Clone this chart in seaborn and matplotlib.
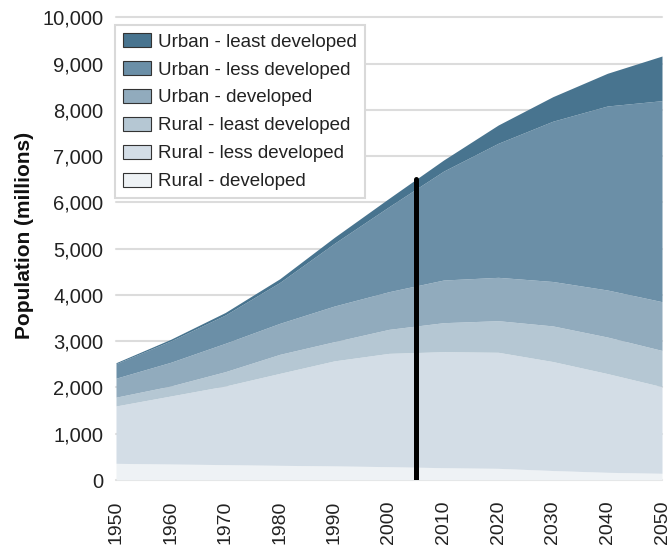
import matplotlib
matplotlib.use("Agg")
import matplotlib.pyplot as plt
from matplotlib.patches import Patch
import seaborn as sns
import pandas as pd

years = [1950, 1960, 1970, 1980, 1990, 2000, 2010, 2020, 2030, 2040, 2050]
rural_developed = [360, 346, 332, 317, 305, 288, 266, 252, 205, 166, 145]
rural_less = [1240, 1469, 1699, 1988, 2270, 2449, 2507, 2508, 2355, 2134, 1872]
rural_least = [190, 216, 310, 411, 415, 519, 627, 683, 770, 790, 783]
urban_developed = [410, 512, 613, 670, 770, 814, 922, 937, 960, 1016, 1054]
urban_less = [313, 461, 611, 884, 1356, 1837, 2354, 2897, 3464, 3977, 4344]
urban_least = [22, 36, 55, 80, 129, 181, 240, 395, 530, 707, 965]

labels = ["Rural - developed", "Rural - less developed", "Rural - least developed",
          "Urban - developed", "Urban - less developed", "Urban - least developed"]
colors = ["#eef2f5", "#d3dde6", "#b5c7d3", "#91abbd", "#6b8fa7", "#48748f"]

marker_year = [2005, 2005]
marker_pop = [0, 6500]

x_ticks = list(range(1950, 2051, 10))
y_ticks = list(range(0, 10001, 1000))

df = pd.DataFrame({"year": years, labels[0]: rural_developed, labels[1]: rural_less,
                   labels[2]: rural_least, labels[3]: urban_developed,
                   labels[4]: urban_less, labels[5]: urban_least})

sns.set_theme(style="white")
plt.rcParams["font.family"] = ["Liberation Sans", "DejaVu Sans"]

fig = plt.figure(figsize=(6.71, 5.52), dpi=100)
ax = fig.add_axes([116 / 671, 1 - 480 / 552, (662 - 116) / 671, (480 - 17.3) / 552])

ax.stackplot(df["year"], *[df[l] for l in labels], colors=colors, linewidth=0, zorder=2)

sns.lineplot(x=marker_year, y=marker_pop, estimator=None, sort=False, color="black",
             linewidth=3.6, ax=ax, zorder=3)

ax.set_xlim(1950, 2050)
ax.set_ylim(0, 10000)
ax.set_xticks(x_ticks)
ax.set_xticklabels([str(y) for y in x_ticks], rotation=90, fontsize=14, color="#222222")
ax.set_yticks(y_ticks)
ax.set_yticklabels([f"{v:,}" for v in y_ticks], fontsize=14.5, color="#222222")
ax.tick_params(axis="x", length=0, pad=15)
ax.tick_params(axis="y", length=6, width=1.5, color="#dcdcdc", pad=3)
ax.yaxis.grid(True, color="#dcdcdc", linewidth=1.5, zorder=0)
ax.xaxis.grid(False)
ax.set_axisbelow(True)
for gl in ax.get_ygridlines():
    gl.set_clip_on(False)
sns.despine(ax=ax, left=True, bottom=True)
ax.set_xlabel("")
ax.set_ylabel("")

fig.text(25 / 671, 1 - 235 / 552, "Population (millions)", rotation=90, ha="center",
         va="center", fontsize=15, fontweight="bold", color="#111111")

handles = [Patch(facecolor=c, edgecolor="#333333", linewidth=0.8, label=l)
           for c, l in zip(colors, labels)][::-1]
leg = ax.legend(handles=handles, loc="upper left", bbox_to_anchor=(115 / 671, 1 - 25 / 552),
                bbox_transform=fig.transFigure, borderaxespad=0, fontsize=13.5,
                handlelength=1.5, handleheight=0.75, handletextpad=0.33,
                labelspacing=0.56, borderpad=0.44, fancybox=False, framealpha=1)
leg.get_frame().set_edgecolor("#d9d9d9")
leg.get_frame().set_linewidth(1.5)
for t in leg.get_texts():
    t.set_color("#222222")

fig.savefig("out.png", dpi=100)
